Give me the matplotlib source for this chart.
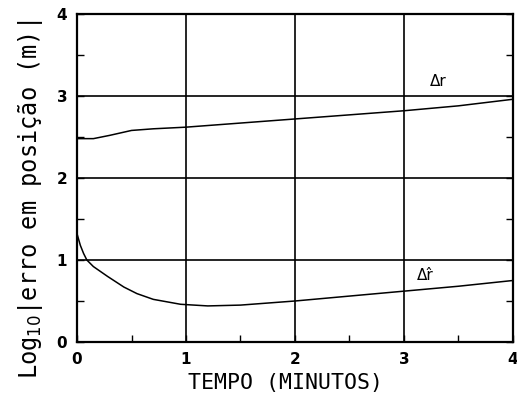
import matplotlib.pyplot as plt
import numpy as np

# tempo em minutos e log10 do erro de posição
t_dr = [0.0, 0.15, 0.3, 0.5, 0.7, 1.0, 1.5, 2.0, 2.5, 3.0, 3.5, 4.0]
dr = [2.48, 2.48, 2.52, 2.58, 2.60, 2.62, 2.67, 2.72, 2.77, 2.82, 2.88, 2.96]

t_drh = [0.0, 0.03, 0.06, 0.09, 0.15, 0.28, 0.43, 0.55, 0.7, 0.95, 1.2, 1.5, 2.0, 2.5, 3.0, 3.5, 4.0]
drh = [1.32, 1.18, 1.08, 1.00, 0.92, 0.80, 0.67, 0.59, 0.52, 0.46, 0.44, 0.45, 0.50, 0.56, 0.62, 0.68, 0.75]

x_ticks = [0, 1, 2, 3, 4]
y_ticks = [0, 1, 2, 3, 4]


def main():
    plt.rcParams['font.family'] = ['DejaVu Sans']
    fig = plt.figure(figsize=(5.17, 4.0), dpi=100)
    ax = fig.add_axes([0.149, 0.145, 0.843, 0.82])

    ax.plot(t_dr, dr, color='black', lw=1.1)
    ax.plot(t_drh, drh, color='black', lw=1.1)

    ax.set_xlim(0, 4)
    ax.set_ylim(0, 4)
    ax.set_xticks(x_ticks)
    ax.set_yticks(y_ticks)
    ax.set_xticks(np.arange(0.5, 4, 1.0), minor=True)
    ax.set_yticks(np.arange(0.5, 4, 1.0), minor=True)
    ax.grid(True, which='major', color='black', lw=1.2)
    ax.tick_params(which='both', direction='in', length=5, width=1.0,
                   right=True, labelsize=11, pad=7)
    for lab in ax.get_xticklabels() + ax.get_yticklabels():
        lab.set_fontweight('bold')
    for s in ax.spines.values():
        s.set_linewidth(1.6)

    ax.text(3.24, 3.12, 'Δr', fontsize=11)
    ax.text(3.12, 0.76, 'Δr̂', fontsize=11)

    ax.set_xlabel('TEMPO (MINUTOS)', fontsize=15.5, family='DejaVu Sans Mono')
    ax.set_ylabel(r'Log$_{10}$|erro em posição (m)|', fontsize=17,
                  family='DejaVu Sans Mono')
    ax.xaxis.set_label_coords(0.479, -0.093)
    ax.yaxis.set_label_coords(-0.073, 0.436)

    fig.savefig('out.png', dpi=100)


if __name__ == "__main__":
    main()
